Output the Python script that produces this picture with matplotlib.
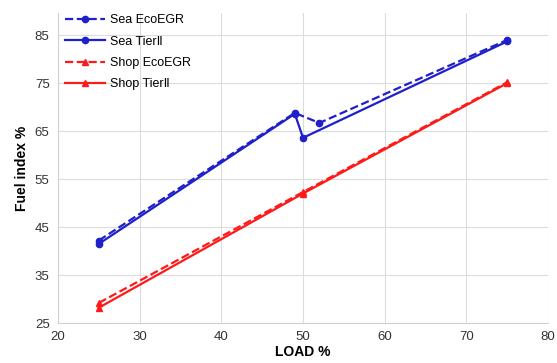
import matplotlib
matplotlib.use("Agg")
import matplotlib.pyplot as plt

# -----------------------------------------------
# Data
# -----------------------------------------------
sea_eco_load = [25, 49, 52, 75]
sea_eco_fuel = [42.2, 68.8, 66.7, 84.0]

sea_tier_load = [25, 49, 50, 75]
sea_tier_fuel = [41.5, 68.6, 63.6, 83.7]

shop_eco_load = [25, 50, 75]
shop_eco_fuel = [29.2, 52.3, 75.2]

shop_tier_load = [25, 50, 75]
shop_tier_fuel = [28.2, 52.0, 75.0]

x_ticks = [20, 30, 40, 50, 60, 70, 80]
y_ticks = [25, 35, 45, 55, 65, 75, 85]

plt.rcParams['font.family'] = ['Liberation Sans', 'DejaVu Sans']

fig = plt.figure(figsize=(5.57, 3.63), dpi=100)
ax = fig.add_axes([0.104, 0.11, 0.88, 0.854])

blue = "#1f1fcc"
red = "#ff1a1a"

ax.plot(sea_eco_load, sea_eco_fuel, color=blue, linestyle="--", linewidth=1.6,
        marker="o", markersize=4.5, label="Sea EcoEGR", zorder=3)
ax.plot(sea_tier_load, sea_tier_fuel, color=blue, linestyle="-", linewidth=1.6,
        marker="o", markersize=4.5, label="Sea Tier\u2161", zorder=3)
ax.plot(shop_eco_load, shop_eco_fuel, color=red, linestyle="--", linewidth=1.6,
        marker="^", markersize=4, label="Shop EcoEGR", zorder=3)
ax.plot(shop_tier_load, shop_tier_fuel, color=red, linestyle="-", linewidth=1.6,
        marker="^", markersize=4, label="Shop Tier\u2161", zorder=3)

ax.set_xlim(20, 80)
ax.set_ylim(25, 89.6)
ax.set_xticks(x_ticks)
ax.set_yticks(y_ticks)
ax.tick_params(axis="both", length=0, labelsize=9.5, colors="#333333", pad=6)

ax.grid(True, color="#dcdcdc", linewidth=0.8)
ax.set_axisbelow(True)
for side in ["top", "right"]:
    ax.spines[side].set_visible(False)
for side in ["left", "bottom"]:
    ax.spines[side].set_color("#d0d0d0")

ax.set_xlabel("LOAD %", fontsize=10, fontweight="bold", labelpad=1)
ax.set_ylabel("Fuel index %", fontsize=10, fontweight="bold", labelpad=4)

ax.legend(loc="upper left", frameon=False, fontsize=9, handlelength=3.2,
          labelspacing=0.75, borderaxespad=0.2, handletextpad=0.4,
          bbox_to_anchor=(0.0, 1.02))

fig.savefig("out.png", dpi=100)
